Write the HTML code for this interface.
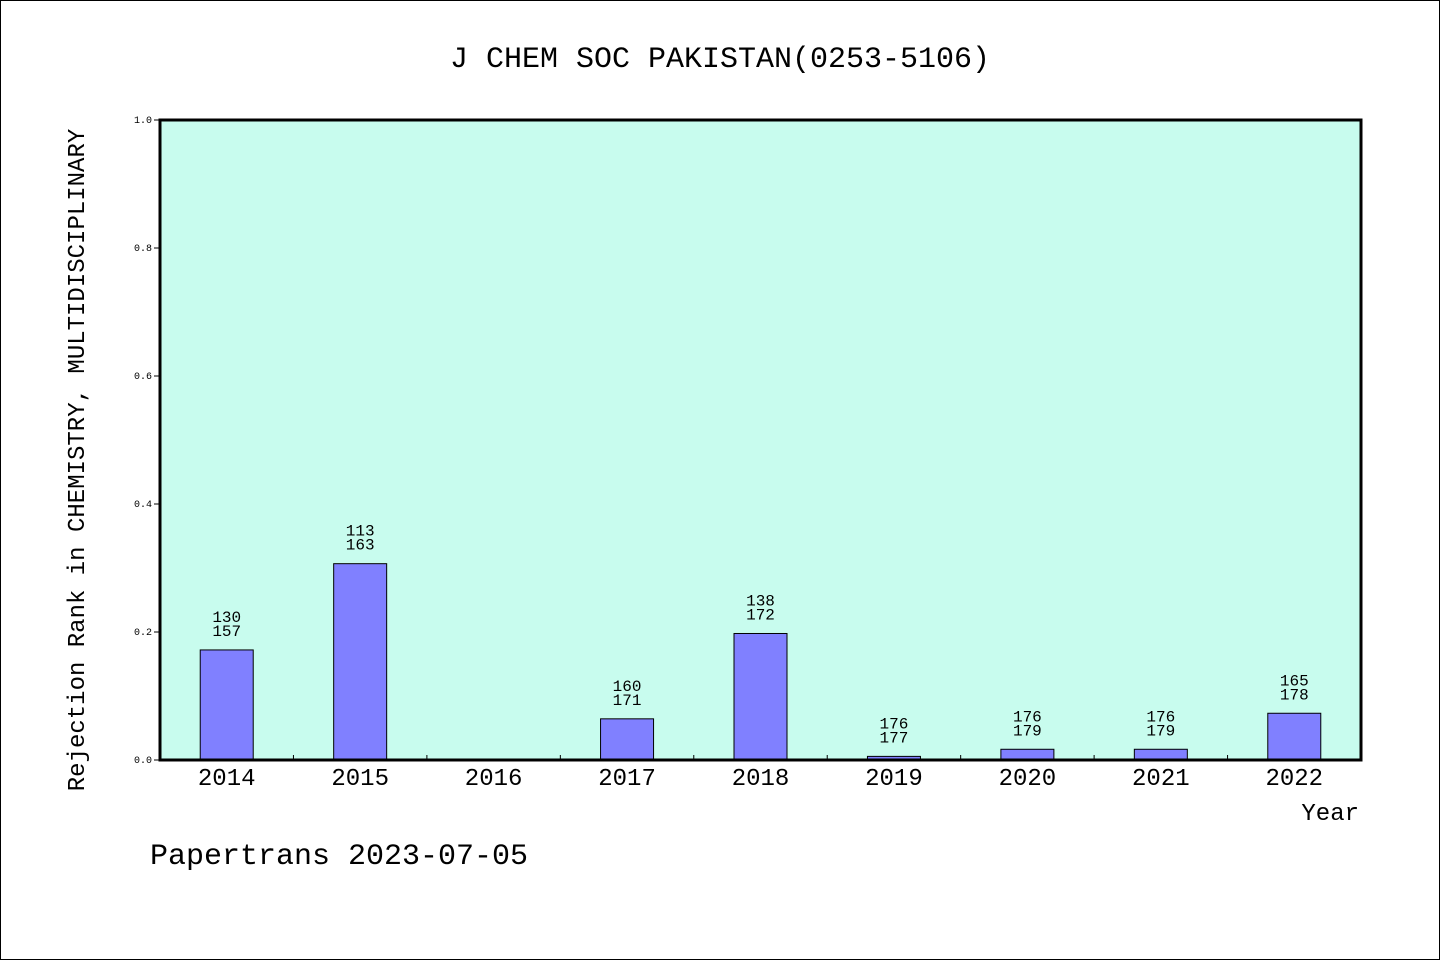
<!DOCTYPE html>
<html><head><meta charset="utf-8"><style>
body{margin:0;background:#fff}
svg{display:block;font-family:"WenQuanYi Zen Hei","Liberation Mono",monospace}
</style></head><body>
<svg id="c" width="1440" height="960" xmlns="http://www.w3.org/2000/svg">
<rect x="0.5" y="0.5" width="1439" height="959" fill="#fff" stroke="#000"/>
<text x="720" y="67" font-size="30" text-anchor="middle">J CHEM SOC PAKISTAN(0253-5106)</text>
<rect x="160" y="120" width="1201" height="640" fill="#c8fcee"/>
<g id="g"></g>
<rect x="160" y="120" width="1201" height="640" fill="none" stroke="#000" stroke-width="3"/>
<text transform="translate(84,460) rotate(-90)" font-size="24" text-anchor="middle">Rejection Rank in CHEMISTRY, MULTIDISCIPLINARY</text>
<text x="1359" y="820" font-size="24" text-anchor="end">Year</text>
<text x="150" y="864" font-size="30">Papertrans 2023-07-05</text>
</svg>
<script>
const years=["2014","2015","2016","2017","2018","2019","2020","2021","2022"];
const ranks=[130,113,null,160,138,176,176,176,165];
const totals=[157,163,null,171,172,177,179,179,178];
const yTicks=[0.0,0.2,0.4,0.6,0.8,1.0];
const X0=160,X1=1361,Y0=760,Y1=120;
const bw=(X1-X0)/years.length;
const x=i=>X0+bw*(i+0.5);
const y=v=>Y0-(Y0-Y1)*v;
const g=document.getElementById('g');
const NS="http://www.w3.org/2000/svg";
function mk(t,a){const e=document.createElementNS(NS,t);for(const k in a)e.setAttribute(k,a[k]);g.appendChild(e);return e;}
yTicks.forEach(t=>{
 const l=mk('line',{x1:X0-6,x2:X0,y1:y(t),y2:y(t),stroke:'#000'});
 
 
 const tx=mk('text',{x:X0-8,y:y(t)+3,'font-size':10,'text-anchor':'end'});
 tx.textContent=t.toFixed(1);
 
 
});
years.forEach((yr,i)=>{
 if(i>0){const l=mk('line',{x1:X0+bw*i,x2:X0+bw*i,y1:Y0,y2:Y0-5,stroke:'#000'});
 
 }
 const tx=mk('text',{x:x(i),y:Y0+25,'font-size':24,'text-anchor':'middle'});
 tx.textContent=yr;
 
 
 if(ranks[i]==null)return;
 const v=1-ranks[i]/totals[i];
 const r=mk('rect',{x:x(i)-26.5,y:y(v),width:53,height:Y0-y(v),fill:'#8080ff',stroke:'#000','stroke-width':1});
 
 
 const a=mk('text',{x:x(i),y:y(v)-28,'font-size':16,'text-anchor':'middle'});
 a.textContent=ranks[i];
 
 
 const b=mk('text',{x:x(i),y:y(v)-14,'font-size':16,'text-anchor':'middle'});
 b.textContent=totals[i];
 
 
});
</script>
</body></html>
